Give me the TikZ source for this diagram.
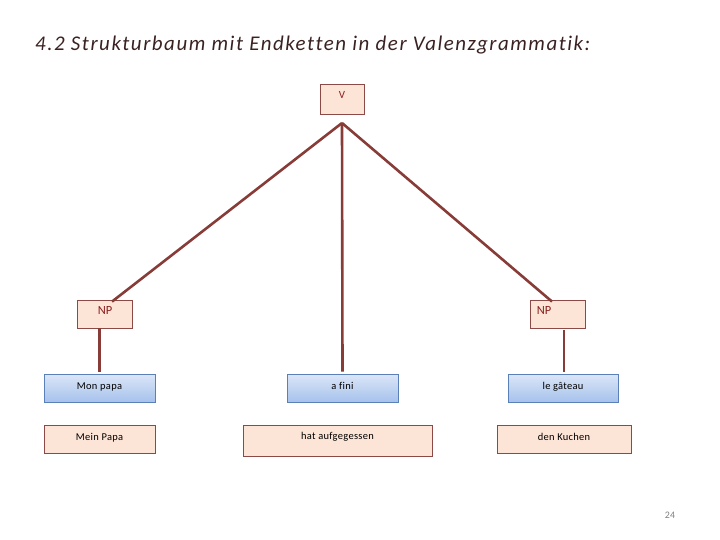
\documentclass[tikz,border=0pt]{standalone}
\usepackage{fontspec}
\setmainfont{Carlito}[Ligatures={NoCommon}]
\newfontfamily\titlefont{Carlito}[Ligatures={NoCommon},LetterSpace=7.3]
\newfontfamily\boxfont{Carlito}[Ligatures={NoCommon},LetterSpace=3]
\usetikzlibrary{calc}
\definecolor{peach}{HTML}{FCE4D6}
\definecolor{boxbrown}{HTML}{8B4A45}
\definecolor{linebrown}{HTML}{873C38}
\definecolor{labred}{HTML}{8B2020}
\definecolor{titlecol}{HTML}{3A2222}
\definecolor{bluetop}{HTML}{DCE6F8}
\definecolor{bluebot}{HTML}{A6C2EC}
\definecolor{blueborder}{HTML}{5B80B8}
\begin{document}
\begin{tikzpicture}[x=1bp,y=-1bp,
  boxtext/.style={font=\boxfont\fontsize{10.5}{12}\selectfont,text height=6bp,text depth=4bp},
  peachbox/.style={draw=boxbrown,line width=0.8bp,fill=peach,inner sep=0pt,minimum height=28bp,boxtext},
  bluebox/.style={draw=blueborder,line width=0.8bp,top color=bluetop,bottom color=bluebot,inner sep=0pt,minimum height=28bp,boxtext},
  catlabel/.style={text=labred,font=\fontsize{12.5}{14}\selectfont,inner sep=0pt},
  edge/.style={draw=linebrown,line width=2.6bp}]
\useasboundingbox (0,0) rectangle (720,540);
\node[anchor=base west,inner sep=0pt,text=titlecol,font=\titlefont\fontsize{21}{24}\selectfont\itshape] (title) at (35,51) {4.2 Strukturbaum mit Endketten in der Valenzgrammatik:};
% V
\node[peachbox,minimum width=44bp,minimum height=30bp] (v) at (342,99) {};
\node[catlabel,font=\fontsize{11}{13}\selectfont] (vl) at (342,95) {V};
\coordinate (apex) at (342,123);
% NP boxes
\node[peachbox,minimum width=55bp] (npl) at (104.5,314) {};
\node[catlabel] (npll) at (105,311) {NP};
\node[peachbox,minimum width=55bp] (npr) at (557.5,314) {};
\node[catlabel] (nprl) at (544,311) {NP};
% French row
\node[bluebox,minimum width=111bp] (monpapa) at (99.5,388) {Mon papa};
\node[bluebox,minimum width=111bp] (afini) at (342.5,388) {a fini};
\node[bluebox,minimum width=110bp] (gateau) at (563,388) {le gâteau};
% German row
\node[peachbox,minimum width=111bp] (meinpapa) at (99.5,439) {Mein Papa};
\node[peachbox,minimum width=189bp,minimum height=31bp,text depth=8bp] (hat) at (337.5,440.5) {hat aufgegessen};
\node[peachbox,minimum width=134bp] (kuchen) at (564,439) {den Kuchen};
% connectors
\draw[edge] (apex) -- ($(npl.north)+(7.5,2)$);
\draw[edge] (apex) -- ($(npr.north)+(-5.5,2)$);
\draw[edge] (apex) -- ($(afini.north)+(0,-2)$);
\draw[edge] (monpapa.north |- npl.south) -- ($(monpapa.north)+(0,-2)$);
\draw[edge,line width=2.2bp] ($(gateau.north |- npr.south)+(1,2)$) -- ($(gateau.north)+(1,-2)$);
% page number
\node[text=gray,font=\fontsize{10}{12}\selectfont,inner sep=0pt] (pg) at (670,515) {24};
\end{tikzpicture}
\end{document}
